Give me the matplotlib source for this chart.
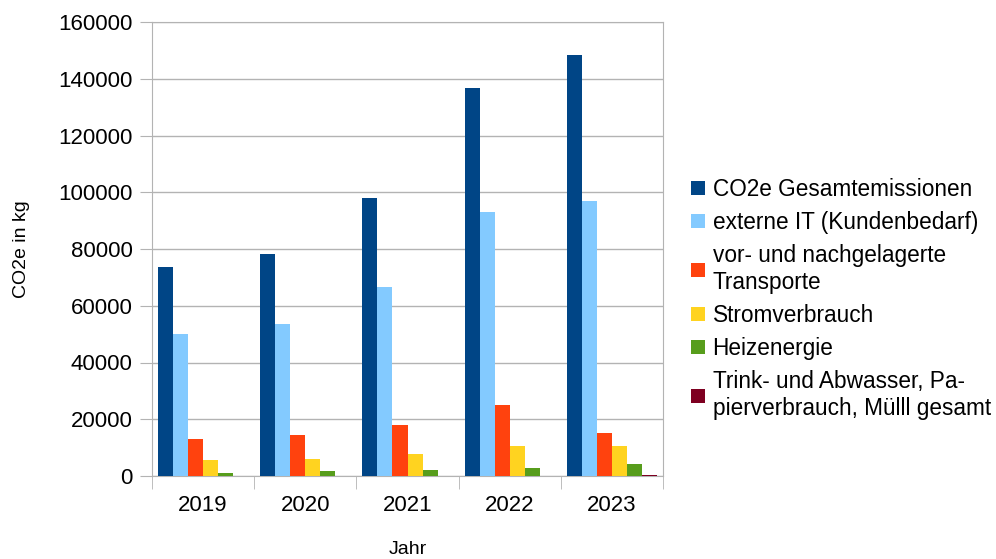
import numpy as np
import matplotlib
matplotlib.use("Agg")
import matplotlib.pyplot as plt

plt.rcParams['font.family'] = ['Liberation Sans', 'DejaVu Sans']

## data ##
years = ["2019", "2020", "2021", "2022", "2023"]
series_names = ["CO2e Gesamtemissionen",
                "externe IT (Kundenbedarf)",
                "vor- und nachgelagerte\nTransporte",
                "Stromverbrauch",
                "Heizenergie",
                "Trink- und Abwasser, Pa-\npierverbrauch, Mülll gesamt"]
gesamt = [73500, 78200, 98000, 136800, 148500]
extern_it = [50000, 53600, 66600, 93000, 97000]
transporte = [13200, 14400, 18100, 25000, 15300]
strom = [5800, 6100, 7700, 10600, 10700]
heizung = [1200, 1600, 2100, 2800, 4200]
wasser_papier_muell = [80, 100, 150, 150, 250]
colors = ["#004586", "#83caff", "#ff420e", "#ffd320", "#579d1c", "#7e0021"]

all_series = [gesamt, extern_it, transporte, strom, heizung, wasser_papier_muell]

fig = plt.figure(figsize=(9.96, 5.59), dpi=100)
ax = fig.add_axes([152/996, 1 - 476/559, (663-152)/996, (476-22)/559])

x = np.arange(len(years))
w = 0.147
for i, vals in enumerate(all_series):
    ax.bar(x + (i - 2.5) * w, vals, width=w, color=colors[i],
           label=series_names[i], zorder=3)

ax.set_xlim(-0.5, len(years) - 0.5)
ax.set_ylim(0, 160000)
ax.set_yticks(np.arange(0, 160001, 20000))
ax.set_xticks(x)
ax.set_xticklabels(years)
ax.set_xticks(np.arange(-0.5, len(years), 1), minor=True)
ax.tick_params(axis='x', which='major', length=0, pad=14, labelsize=16)
ax.tick_params(axis='x', which='minor', length=9, color='#b3b3b3')
ax.tick_params(axis='y', length=9, color='#b3b3b3', labelsize=16, pad=5)
ax.yaxis.grid(True, color='#b3b3b3', linewidth=1.0, zorder=0)
for s in ax.spines.values():
    s.set_color('#b3b3b3')

ax.set_ylabel("CO2e in kg", fontsize=14, labelpad=20)
ax.set_xlabel("Jahr", fontsize=14, labelpad=18)

leg = fig.legend(loc='center left', bbox_to_anchor=(682/996, 1 - 299/559),
                 frameon=False, fontsize=16.3, handlelength=0.6, handleheight=0.6,
                 handletextpad=0.35, labelspacing=0.45, borderaxespad=0)
for t in leg.get_texts():
    t.set_multialignment('left')
    t.set_linespacing(1.2)

fig.savefig("out.png", dpi=100)
